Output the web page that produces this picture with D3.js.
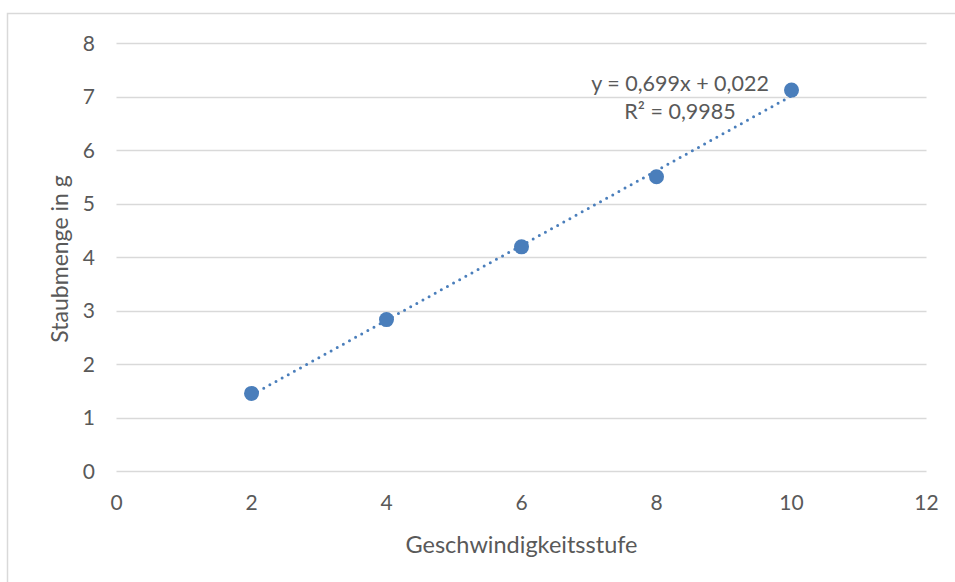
<!DOCTYPE html>
<html><head><meta charset="utf-8">
<script src="https://cdn.jsdelivr.net/npm/d3@7"></script>
<style>
html,body{margin:0;padding:0;background:#fff;}
svg{display:block;}
text{font-family:Lato, "Open Sans", sans-serif;fill:#595959;}
</style></head><body>
<svg id="chart" width="955" height="582"></svg>
<script>
const xValues = [2, 4, 6, 8, 10];
const yValues = [1.45, 2.83, 4.19, 5.5, 7.12];
const xTicks = [0, 2, 4, 6, 8, 10, 12];
const yTicks = [0, 1, 2, 3, 4, 5, 6, 7, 8];
const slope = 0.699, intercept = 0.022;
const eqLabel = "y = 0,699x + 0,022";
const r2Label = "R² = 0,9985";
const xTitle = "Geschwindigkeitsstufe";
const yTitle = "Staubmenge in g";

const svg = d3.select("#chart");
const W = 955, H = 582;
const x = d3.scaleLinear().domain([0, 12]).range([116.5, 926.5]);
const y = d3.scaleLinear().domain([0, 8]).range([471, 43]);
const blue = "#4a7ebb";

svg.append("rect").attr("x", 7.5).attr("y", 13.5).attr("width", W).attr("height", H)
  .attr("fill", "#fff").attr("stroke", "#d9d9d9").attr("stroke-width", 1.5);

// gridlines
svg.append("g").selectAll("line").data(yTicks).join("line")
  .attr("x1", x(0)).attr("x2", x(12))
  .attr("y1", d => Math.round(y(d)) + 0.5).attr("y2", d => Math.round(y(d)) + 0.5)
  .attr("stroke", "#d9d9d9").attr("stroke-width", 1.3);

// y tick labels
svg.append("g").selectAll("text").data(yTicks).join("text")
  .attr("x", 95).attr("y", d => y(d)).attr("dy", "0.36em")
  .attr("text-anchor", "end").attr("font-size", 21).text(d => d);

// x tick labels
svg.append("g").selectAll("text").data(xTicks).join("text")
  .attr("x", d => x(d)).attr("y", 510)
  .attr("text-anchor", "middle").attr("font-size", 21).text(d => d);

// axis titles
svg.append("text").attr("x", (x(0) + x(12)) / 2).attr("y", 553)
  .attr("text-anchor", "middle").attr("font-size", 23.5).text(xTitle);
svg.append("text").attr("transform", `translate(68,${(y(0) + y(8)) / 2 + 2}) rotate(-90)`)
  .attr("text-anchor", "middle").attr("font-size", 23).text(yTitle);

// trendline
const x0 = d3.min(xValues), x1 = d3.max(xValues);
svg.append("line")
  .attr("x1", x(x0)).attr("y1", y(slope * x0 + intercept))
  .attr("x2", x(x1)).attr("y2", y(slope * x1 + intercept))
  .attr("stroke", blue).attr("stroke-width", 3)
  .attr("stroke-dasharray", "0,7").attr("stroke-linecap", "round");

// points
svg.append("g").selectAll("circle").data(xValues).join("circle")
  .attr("cx", d => x(d)).attr("cy", (d, i) => y(yValues[i]))
  .attr("r", 7.5).attr("fill", blue);

// equation
svg.append("text").attr("x", 680).attr("y", 91).attr("text-anchor", "middle")
  .attr("font-size", 21.5).text(eqLabel);
svg.append("text").attr("x", 680).attr("y", 119).attr("text-anchor", "middle")
  .attr("font-size", 21.5).text(r2Label);
</script>
</body></html>
